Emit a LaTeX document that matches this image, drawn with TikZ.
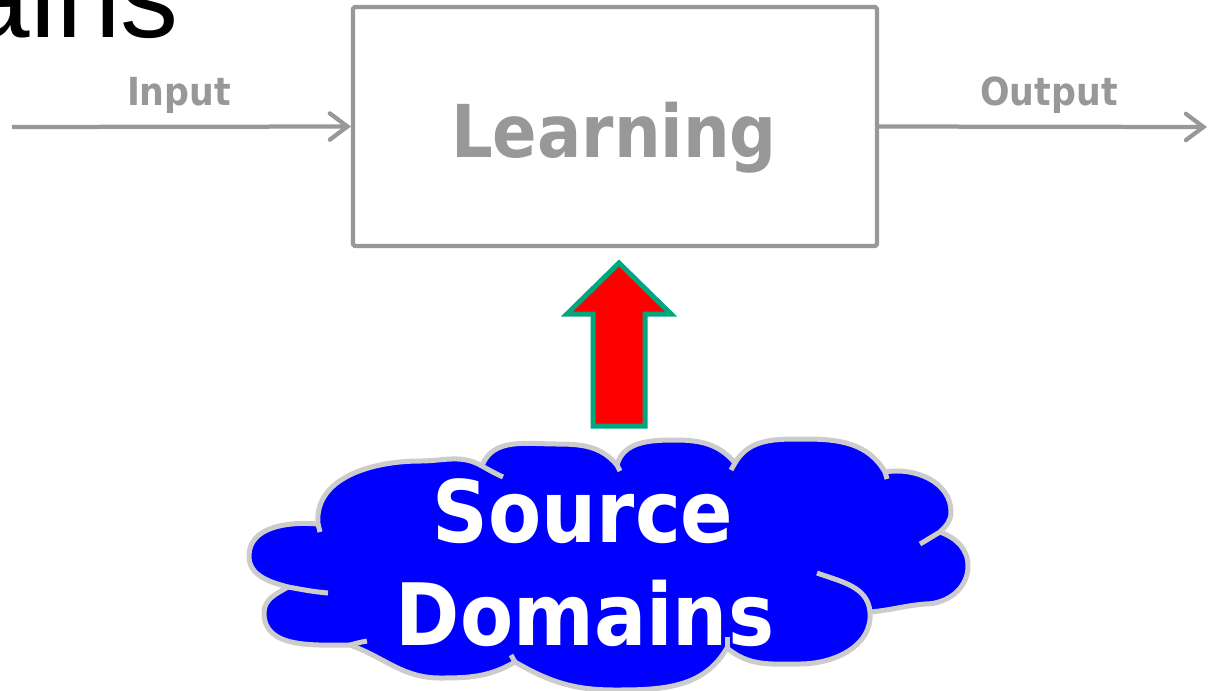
\documentclass[tikz,border=0pt]{standalone}
\usepackage{fontspec}
\setmainfont{Liberation Sans}
\newfontfamily\condfont{DejaVu Sans Condensed}
\usetikzlibrary{arrows.meta}
\definecolor{boxgray}{RGB}{152,152,152}
\definecolor{cloudblue}{RGB}{0,0,255}
\definecolor{cloudrim}{RGB}{204,204,204}
\definecolor{arrowgreen}{RGB}{0,166,126}

\begin{document}
\begin{tikzpicture}[x=0.02cm,y=-0.02cm,
    graybox/.style={draw=boxgray,line width=0.085cm,rounded corners=1pt,inner sep=0pt},
    grayarrow/.style={draw=boxgray,line width=0.085cm,-{Straight Barb[length=10pt,width=15pt,line cap=round]}},
    graytext/.style={text=boxgray,inner sep=0pt},
    rim/.style={draw=cloudrim,line width=0.1cm,line join=round}]
  \useasboundingbox (0,0) rectangle (1209,690);
  \clip (0,0) rectangle (1209,690);
    % slide title, cut off by the frame
    \node[anchor=base east,inner sep=0pt,font=\fontsize{66}{70}\selectfont] (title) at (179,37) {ains};
    % learning block with input and output
    \node[graybox,minimum width=10.48cm,minimum height=4.78cm] (learning) at (615,126.5) {};
    \node[graytext,anchor=base,font={\condfont\bfseries\fontsize{41.5}{45}\selectfont}] (learntext) at (614,157) {Learning};
    \coordinate (instart) at (12,127);
    \coordinate (outend) at (1207,127);
    \draw[grayarrow] (instart) -- (learning.west);
    \draw[grayarrow] (learning.east) -- (outend);
    \node[graytext,anchor=base,font={\condfont\bfseries\fontsize{22}{24}\selectfont}] (inlabel) at (179,105) {Input};
    \node[graytext,anchor=base,font={\condfont\bfseries\fontsize{22}{24}\selectfont}] (outlabel) at (1049,105) {Output};
    % block arrow up into the learning box
    \filldraw[fill=red,draw=arrowgreen,line width=0.1cm,line join=miter]
    (593,426) -- (593,314) -- (567,314) -- (619,263) -- (671,314) -- (645,314) -- (645,426) -- cycle;
    % cloud of source domains
    \filldraw[fill=cloudblue,rim] (318,524) to[out=95,in=180] (420,461) to[out=0,in=150] (482,466)
    to[out=70,in=180] (557,444) to[out=0,in=130] (617,465)
    to[out=75,in=180] (675,440) to[out=0,in=130] (735,463)
    to[out=60,in=180] (805,439) to[out=0,in=120] (885,472)
    to[out=10,in=90] (951,512) to[out=270,in=45] (940,532)
    to[out=-20,in=90] (968,566) to[out=270,in=0] (925,604) to[out=185,in=5] (870,612)
    to[out=-85,in=0] (800,664) to[out=180,in=-40] (727,648)
    to[out=-120,in=0] (615,690) to[out=180,in=-30] (515,662)
    to[out=-150,in=0] (440,678) to[out=180,in=-20] (350,645)
    to[out=180,in=-90] (264,613) to[out=90,in=210] (288,587)
    to[out=165,in=-90] (249,556) to[out=90,in=175] (318,524) -- cycle;
    \draw[rim] (288,587) to[out=-10,in=175] (328,593);
    \draw[rim] (350,645) to[out=15,in=190] (367,641);
    \draw[rim] (318,524) -- (320,532);
    \draw[rim] (482,466) to[out=-30,in=155] (503,477);
    \draw[rim] (617,465) -- (620,471);
    \draw[rim] (735,463) -- (731,470);
    \draw[rim] (885,472) -- (887,479);
    \draw[rim] (940,532) to[out=210,in=30] (920,544);
    \draw[rim] (870,612) to[out=95,in=-20] (817,573);
    \draw[rim] (727,648) -- (727,637);
    \draw[rim] (515,662) -- (511,655);
    \node[anchor=base,inner sep=0pt,text=white,font={\condfont\bfseries\fontsize{49}{60}\selectfont}] (source) at (583,542) {Source};
    \node[anchor=base,inner sep=0pt,text=white,font={\condfont\bfseries\fontsize{49}{60}\selectfont}] (domains) at (585,645) {Domains};
\end{tikzpicture}
\end{document}
